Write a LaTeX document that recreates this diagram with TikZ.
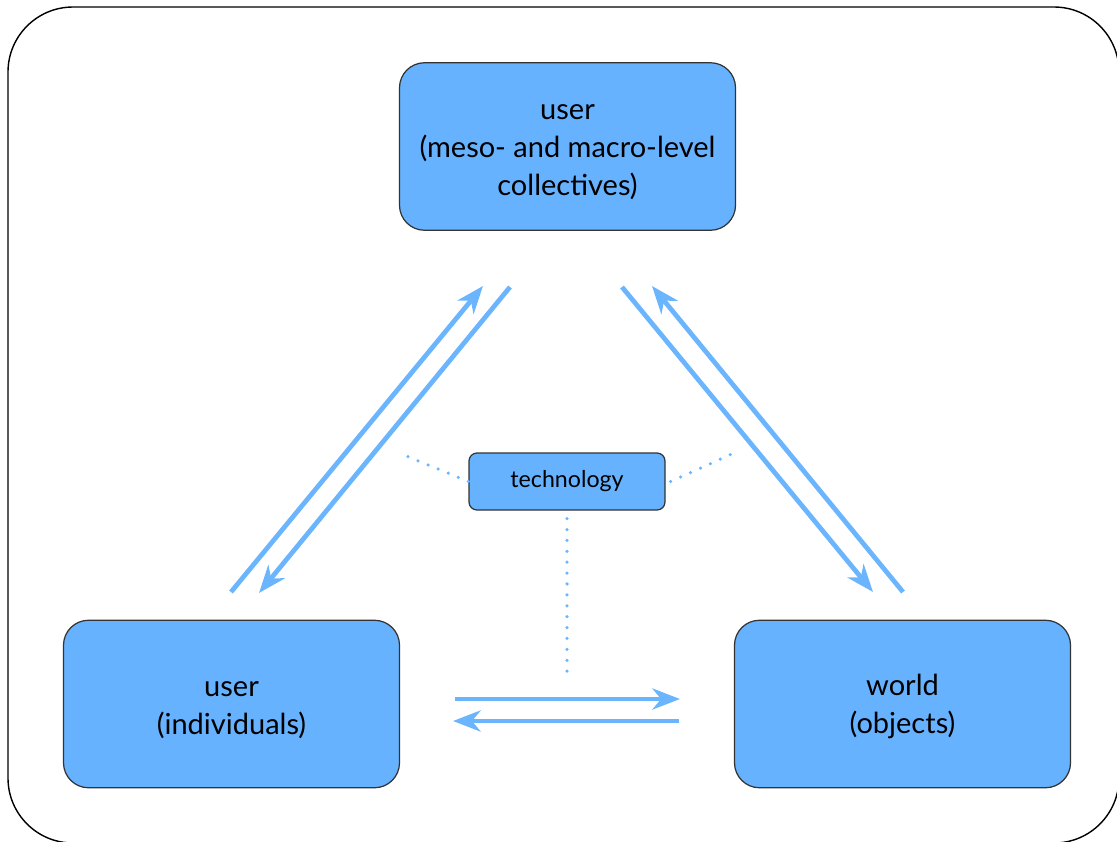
\documentclass[tikz,border=0pt]{standalone}
\usepackage{fontspec}
\setmainfont{Lato}
\usepackage{xcolor}
\usetikzlibrary{arrows.meta, positioning, calc}
\definecolor{boxblue}{HTML}{66B2FF}
\definecolor{flowblue}{HTML}{6BB5FF}
\definecolor{edgegray}{HTML}{333333}
\tikzset{
  levelbox/.style={
    draw=edgegray, line width=0.7pt, rounded corners=0.5cm, fill=boxblue,
    align=center, minimum width=6.72cm, minimum height=3.35cm,
    font=\fontsize{16.5}{21.5}\selectfont
  },
  techbox/.style={
    draw=edgegray, line width=0.7pt, rounded corners=0.16cm, fill=boxblue,
    align=center, minimum width=3.92cm, minimum height=1.14cm,
    font=\fontsize{13.2}{16}\selectfont
  },
  flowarrow/.style={
    -{Stealth[length=0.55cm, width=0.42cm, inset=0.17cm]},
    line width=2.7pt, color=flowblue
  },
  techlink/.style={
    line width=2pt, color=flowblue, line cap=round,
    dash pattern=on 0pt off 6.2pt
  },
}

\begin{document}
\begin{tikzpicture}
  \useasboundingbox (0,0) rectangle (22.34,-16.82);

  % Outer frame
  \draw[line width=0.8pt, rounded corners=1.3cm] (0.16,-0.14) rectangle (22.38,-16.86);

  % Level boxes
  \node[levelbox] (macro) at (11.35,-2.93) {\strut user\\(meso- and macro-level\\collectives)};
  \node[levelbox] (indiv) at (4.63,-14.08) {\strut user\\(individuals)};
  \node[levelbox] (world) at (18.05,-14.08) {\strut world\\(objects)};

  % Technology box
  \node[techbox] (tech) at (11.34,-9.63) {\strut technology};

  % Arrow end points
  \coordinate (iu0) at (4.62,-11.84);  \coordinate (iu1) at (9.66,-5.72);
  \coordinate (id0) at (10.20,-5.74);  \coordinate (id1) at (5.18,-11.86);
  \coordinate (wd0) at (12.44,-5.74);  \coordinate (wd1) at (17.46,-11.84);
  \coordinate (wu0) at (18.06,-11.84); \coordinate (wu1) at (13.04,-5.72);
  \coordinate (hr0) at (9.10,-13.98);  \coordinate (hr1) at (13.60,-13.98);
  \coordinate (hl0) at (13.58,-14.42); \coordinate (hl1) at (9.06,-14.42);

  % Arrows
  \draw[flowarrow] (iu0) -- (iu1);
  \draw[flowarrow] (id0) -- (id1);
  \draw[flowarrow] (wd0) -- (wd1);
  \draw[flowarrow] (wu0) -- (wu1);
  \draw[flowarrow] (hr0) -- (hr1);
  \draw[flowarrow] (hl0) -- (hl1);

  % Dotted links to technology
  \coordinate (tl) at (8.08,-9.10);
  \coordinate (tr) at (14.68,-9.06);
  \coordinate (tb) at (11.34,-13.54);
  \draw[techlink] (tech.west) -- (tl);
  \draw[techlink] ($(tech.east)+(0.1,0)$) -- (tr);
  \draw[techlink] ($(tech.south)+(0,-0.16)$) -- (tb);
\end{tikzpicture}
\end{document}
